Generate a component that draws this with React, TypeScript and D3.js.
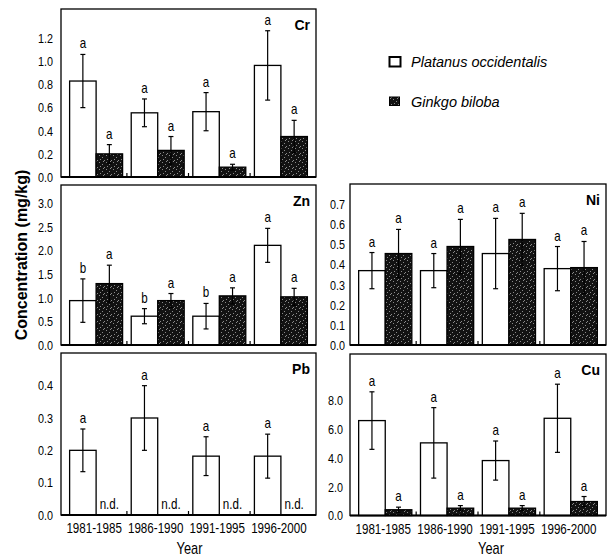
import { useEffect, useRef } from 'react'
import * as d3 from 'd3'

const years = ['1981-1985', '1986-1990', '1991-1995', '1996-2000']
const legendNames = ['Platanus occidentalis', 'Ginkgo biloba']

// Cr
const crTicks = [0, 0.2, 0.4, 0.6, 0.8, 1.0, 1.2]
const crPlatanus = [0.83, 0.555, 0.565, 0.965]
const crPlatanusSE = [0.23, 0.12, 0.165, 0.3]
const crGinkgo = [0.2, 0.23, 0.085, 0.35]
const crGinkgoSE = [0.08, 0.12, 0.025, 0.14]
const crPlatanusLetter = ['a', 'a', 'a', 'a']
const crGinkgoLetter = ['a', 'a', 'a', 'a']

// Zn
const znTicks = [0, 0.5, 1.0, 1.5, 2.0, 2.5, 3.0]
const znPlatanus = [0.94, 0.61, 0.61, 2.11]
const znPlatanusSE = [0.46, 0.16, 0.27, 0.36]
const znGinkgo = [1.3, 0.94, 1.04, 1.02]
const znGinkgoSE = [0.39, 0.15, 0.17, 0.18]
const znPlatanusLetter = ['b', 'b', 'b', 'a']
const znGinkgoLetter = ['a', 'a', 'a', 'a']

// Pb (Ginkgo not detected)
const pbTicks = [0, 0.1, 0.2, 0.3, 0.4]
const pbPlatanus = [0.2, 0.3, 0.182, 0.182]
const pbPlatanusSE = [0.066, 0.1, 0.06, 0.068]
const pbGinkgo = [null, null, null, null]
const pbGinkgoSE = [null, null, null, null]
const pbPlatanusLetter = ['a', 'a', 'a', 'a']
const pbGinkgoLetter = ['n.d.', 'n.d.', 'n.d.', 'n.d.']

// Ni
const niTicks = [0, 0.1, 0.2, 0.3, 0.4, 0.5, 0.6, 0.7]
const niPlatanus = [0.37, 0.37, 0.455, 0.38]
const niPlatanusSE = [0.09, 0.085, 0.175, 0.11]
const niGinkgo = [0.455, 0.49, 0.525, 0.385]
const niGinkgoSE = [0.12, 0.135, 0.13, 0.13]
const niPlatanusLetter = ['a', 'a', 'a', 'a']
const niGinkgoLetter = ['a', 'a', 'a', 'a']

// Cu
const cuTicks = [0, 2, 4, 6, 8]
const cuPlatanus = [6.6, 5.05, 3.82, 6.76]
const cuPlatanusSE = [2.0, 2.45, 1.36, 2.37]
const cuGinkgo = [0.4, 0.51, 0.51, 0.97]
const cuGinkgoSE = [0.18, 0.18, 0.18, 0.35]
const cuPlatanusLetter = ['a', 'a', 'a', 'a']
const cuGinkgoLetter = ['a', 'a', 'a', 'a']

const sans = "'Liberation Sans', Arial, sans-serif"
const squeeze = 0.8 // the scan uses a condensed face

// condensed text: translate to the anchor point, then squeeze horizontally
const narrowText = (sel: any, x: number, y: number, str: string, size: number, anchor = 'middle') =>
  sel.append('text')
    .attr('transform', `translate(${x},${y}) scale(${squeeze},1)`)
    .attr('text-anchor', anchor)
    .attr('font-family', sans)
    .attr('font-size', size)
    .text(str)

const App = () => {
  const ref = useRef<SVGSVGElement>(null)

  useEffect(() => {
    const svg = d3.select(ref.current)
    svg.selectAll('*').remove()

    // stippled black fill
    const pat = svg.append('defs').append('pattern')
      .attr('id', 'stipple')
      .attr('width', 7).attr('height', 7)
      .attr('patternUnits', 'userSpaceOnUse')
    pat.append('rect').attr('width', 7).attr('height', 7).attr('fill', '#121212')
    ;[[1, 1], [4, 3], [2, 5], [6, 6], [5, 0]].forEach(([px, py]) => {
      pat.append('rect').attr('x', px).attr('y', py).attr('width', 1).attr('height', 1).attr('fill', '#8a8a8a')
    })

    const panels = [
      { name: 'Cr', left: 61, right: 316, top: 9, bottom: 177, max: 1.453, ticks: crTicks, p: crPlatanus, pe: crPlatanusSE, g: crGinkgo, ge: crGinkgoSE, pl: crPlatanusLetter, gl: crGinkgoLetter, xl: false, labelGap: 8 },
      { name: 'Zn', left: 61, right: 316, top: 185, bottom: 345, max: 3.388, ticks: znTicks, p: znPlatanus, pe: znPlatanusSE, g: znGinkgo, ge: znGinkgoSE, pl: znPlatanusLetter, gl: znGinkgoLetter, xl: false, labelGap: 8 },
      { name: 'Pb', left: 61, right: 316, top: 353, bottom: 515, max: 0.501, ticks: pbTicks, p: pbPlatanus, pe: pbPlatanusSE, g: pbGinkgo, ge: pbGinkgoSE, pl: pbPlatanusLetter, gl: pbGinkgoLetter, xl: true, labelGap: 8 },
      { name: 'Ni', left: 350, right: 606, top: 184, bottom: 345, max: 0.801, ticks: niTicks, p: niPlatanus, pe: niPlatanusSE, g: niGinkgo, ge: niGinkgoSE, pl: niPlatanusLetter, gl: niGinkgoLetter, xl: false, labelGap: 5 },
      { name: 'Cu', left: 350, right: 606, top: 354, bottom: 515.5, max: 11.23, ticks: cuTicks, p: cuPlatanus, pe: cuPlatanusSE, g: cuGinkgo, ge: cuGinkgoSE, pl: cuPlatanusLetter, gl: cuGinkgoLetter, xl: true, labelGap: 7 },
    ]

    panels.forEach(pn => {
      const g = svg.append('g')
      const x = d3.scaleBand().domain(years).range([pn.left, pn.right]).paddingInner(0.14).paddingOuter(0.14)
      const x1 = d3.scaleBand().domain(['p', 'g']).range([0, x.bandwidth()])
      const y = d3.scaleLinear().domain([0, pn.max]).range([pn.bottom, pn.top])

      // frame
      g.append('rect')
        .attr('x', pn.left).attr('y', pn.top)
        .attr('width', pn.right - pn.left).attr('height', pn.bottom - pn.top)
        .attr('fill', 'none').attr('stroke', '#000').attr('stroke-width', 1.3)

      // y axis labels
      const yAxis = d3.axisLeft(y).tickValues(pn.ticks).tickSize(0).tickPadding(pn.labelGap).tickFormat(d3.format('.1f'))
      const ya = g.append('g').attr('transform', `translate(${pn.left},0)`).call(yAxis)
      ya.select('.domain').remove()
      ya.selectAll('text')
        .attr('x', -pn.labelGap / squeeze)
        .attr('transform', `scale(${squeeze},1)`)
        .attr('font-family', sans).attr('font-size', 13.5).attr('fill', '#000')

      const series = [
        { key: 'p', vals: pn.p, errs: pn.pe, letters: pn.pl },
        { key: 'g', vals: pn.g, errs: pn.ge, letters: pn.gl },
      ]

      series.forEach(s => {
        years.forEach((yr, i) => {
          const v = s.vals[i]
          const bx = (x(yr) as number) + (x1(s.key) as number)
          const bw = x1.bandwidth()
          const cx = bx + bw / 2
          if (v == null) {
            narrowText(g, cx, pn.bottom - 6, s.letters[i], 14.5)
            return
          }
          g.append('rect')
            .attr('x', bx).attr('y', y(v))
            .attr('width', bw).attr('height', y(0) - y(v))
            .attr('fill', s.key === 'p' ? '#fff' : 'url(#stipple)')
            .attr('stroke', '#000').attr('stroke-width', 1.3)
          const e = s.errs[i] as number
          const hi = y(v + e)
          const lo = y(Math.max(0, v - e))
          g.append('line').attr('x1', cx).attr('x2', cx).attr('y1', hi).attr('y2', lo)
            .attr('stroke', '#000').attr('stroke-width', 1.2)
          ;[hi, lo].forEach(cy => {
            g.append('line').attr('x1', cx - 2.5).attr('x2', cx + 2.5).attr('y1', cy).attr('y2', cy)
              .attr('stroke', '#000').attr('stroke-width', 1.2)
          })
          narrowText(g, cx, hi - 6, s.letters[i], 14.5)
        })
      })

      // small ticks between year groups
      const step = x.step()
      years.slice(1).forEach(yr => {
        const tx = (x(yr) as number) - (step - x.bandwidth()) / 2
        g.append('line').attr('x1', tx).attr('x2', tx).attr('y1', pn.bottom).attr('y2', pn.bottom - 4)
          .attr('stroke', '#000').attr('stroke-width', 1.2)
      })

      // thicker baseline
      g.append('line').attr('x1', pn.left).attr('x2', pn.right).attr('y1', pn.bottom).attr('y2', pn.bottom)
        .attr('stroke', '#000').attr('stroke-width', 2)

      // element name
      g.append('text').attr('x', pn.right - 6).attr('y', pn.top + 21)
        .attr('text-anchor', 'end').attr('font-family', sans).attr('font-weight', 'bold').attr('font-size', 14)
        .text(pn.name)

      if (pn.xl) {
        years.forEach(yr => {
          narrowText(g, (x(yr) as number) + x.bandwidth() / 2 - 2, pn.bottom + 18, yr, 14.5)
        })
        narrowText(g, (pn.left + pn.right) / 2 + (pn.left > 300 ? 13 : 1), 554, 'Year', 16)
      }
    })

    // y title
    svg.append('text')
      .attr('transform', 'translate(27,255) rotate(-90)')
      .attr('text-anchor', 'middle').attr('font-family', sans).attr('font-weight', 'bold').attr('font-size', 16)
      .text('Concentration (mg/kg)')

    // legend
    const leg = svg.append('g')
    legendNames.forEach((nm, i) => {
      const ly = 57 + i * 40
      leg.append('rect').attr('x', 389.5).attr('y', ly).attr('width', i === 0 ? 11 : 10).attr('height', i === 0 ? 9.5 : 8.5)
        .attr('fill', i === 0 ? '#fff' : 'url(#stipple)').attr('stroke', '#000').attr('stroke-width', i === 0 ? 2 : 1)
      leg.append('text').attr('x', 411).attr('y', ly + 10)
        .attr('font-family', sans).attr('font-style', 'italic').attr('font-size', 14.5)
        .text(nm)
    })
  }, [])

  return (
    <svg ref={ref} width={612} height={557} style={{ position: 'absolute', left: 0, top: 0, background: '#fff' }} />
  )
}

export default App
